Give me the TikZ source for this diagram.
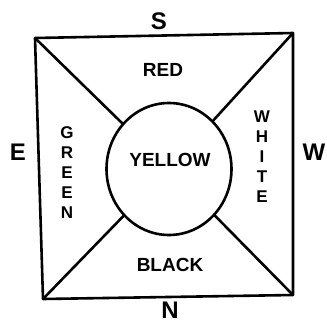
\documentclass[tikz,border=0pt]{standalone}
\usepackage{fontspec}
\setmainfont{Liberation Sans}
\usetikzlibrary{shapes.geometric}
\tikzset{
  ink/.style={line width=2.6pt, line join=round, line cap=round},
  lbl/.style={inner sep=0pt, font=\bfseries\fontsize{19}{19}\selectfont},
  big/.style={inner sep=0pt, font=\bfseries\fontsize{24}{24}\selectfont},
  vlbl/.style={inner sep=0pt, align=center, font=\bfseries\fontsize{17}{20}\selectfont},
}
\begin{document}
\begin{tikzpicture}[x=1pt,y=-1pt]
\useasboundingbox (0,0) rectangle (327,322);
\fill[white] (0,0) rectangle (327,322);
\coordinate (tl) at (35,38);
\coordinate (tr) at (293,33);
\coordinate (br) at (293,295);
\coordinate (bl) at (43,299);
\node[ellipse, draw, ink, minimum width=125pt, minimum height=132pt, inner sep=0pt] (Y) at (169,169) {};
\draw[ink] (tl) -- (tr) -- (br) -- (bl) -- cycle;
\draw[ink] (tl) -- (Y);
\draw[ink] (tr) -- (Y);
\draw[ink] (br) -- (Y);
\draw[ink] (bl) -- (Y);
\node[lbl] (yellow) at (170,160) {YELLOW};
\node[lbl] (red) at (163,70) {RED};
\node[lbl] (black) at (170,265) {BLACK};
\node[vlbl] (green) at (67,173) {G\\R\\E\\E\\N};
\node[vlbl] (white) at (262,157) {W\\H\\I\\T\\E};
\node[big] (s) at (159,21) {S};
\node[big] (n) at (170,310) {N};
\node[big] (e) at (18,152) {E};
\node[big] (w) at (314,152) {W};
\end{tikzpicture}
\end{document}
